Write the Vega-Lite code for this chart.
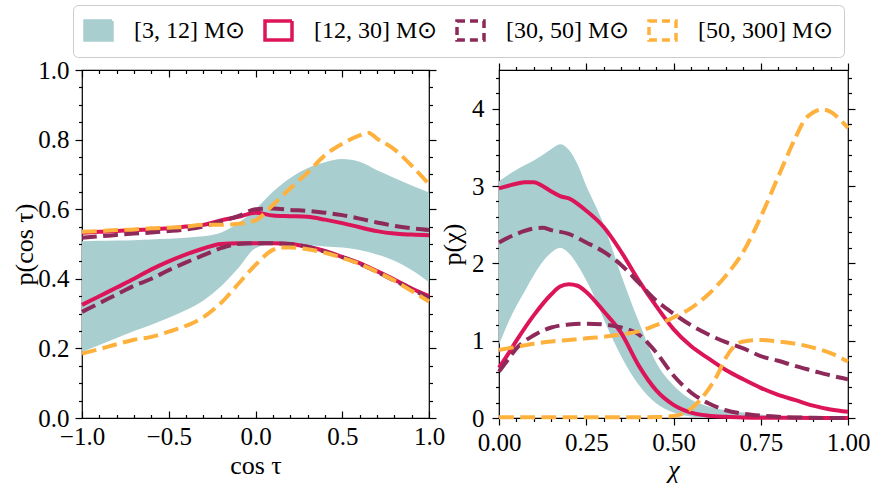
{
  "$schema": "https://vega.github.io/schema/vega-lite/v6.json",
  "padding": {"left": 11, "top": 4, "right": 5, "bottom": 5},
  "bounds": "flush",
  "spacing": 70,
  "config": {
    "view": {"stroke": "black", "strokeWidth": 1.2},
    "axis": {"labelFont": "Liberation Serif", "labelFontSize": 25, "labelColor": "black", "labelFlush": false, "labelOverlap": false, "titleFont": "Liberation Serif", "titleFontSize": 26, "titleFontWeight": "normal", "titleColor": "black", "domain": false, "grid": false, "tickColor": "black", "tickWidth": 1.2},
    "legend": {"labelFont": "Liberation Serif", "labelFontSize": 24, "labelColor": "black"}
  },
  "datasets": {
    "lt": [
      {"x": -1.0, "lo": 0.19, "hi": 0.508}, {"x": -0.9, "lo": 0.21, "hi": 0.509}, {"x": -0.8, "lo": 0.23, "hi": 0.51},
      {"x": -0.7, "lo": 0.25, "hi": 0.511}, {"x": -0.6, "lo": 0.268, "hi": 0.513}, {"x": -0.5, "lo": 0.288, "hi": 0.515},
      {"x": -0.4, "lo": 0.31, "hi": 0.518}, {"x": -0.3, "lo": 0.338, "hi": 0.522}, {"x": -0.2, "lo": 0.378, "hi": 0.532},
      {"x": -0.1, "lo": 0.43, "hi": 0.56}, {"x": 0.0, "lo": 0.488, "hi": 0.6}, {"x": 0.1, "lo": 0.5, "hi": 0.65},
      {"x": 0.2, "lo": 0.5, "hi": 0.69}, {"x": 0.3, "lo": 0.497, "hi": 0.718}, {"x": 0.4, "lo": 0.493, "hi": 0.735},
      {"x": 0.5, "lo": 0.49, "hi": 0.744}, {"x": 0.6, "lo": 0.483, "hi": 0.736}, {"x": 0.7, "lo": 0.47, "hi": 0.712},
      {"x": 0.8, "lo": 0.452, "hi": 0.69}, {"x": 0.9, "lo": 0.425, "hi": 0.668}, {"x": 1.0, "lo": 0.39, "hi": 0.648}
    ],
    "ll": [
      {"g": "12-30", "b": "hi", "x": -1, "y": 0.532}, {"g": "12-30", "b": "hi", "x": -0.9, "y": 0.535}, {"g": "12-30", "b": "hi", "x": -0.8, "y": 0.537},
      {"g": "12-30", "b": "hi", "x": -0.7, "y": 0.54}, {"g": "12-30", "b": "hi", "x": -0.6, "y": 0.542}, {"g": "12-30", "b": "hi", "x": -0.5, "y": 0.545},
      {"g": "12-30", "b": "hi", "x": -0.4, "y": 0.55}, {"g": "12-30", "b": "hi", "x": -0.3, "y": 0.555}, {"g": "12-30", "b": "hi", "x": -0.2, "y": 0.568},
      {"g": "12-30", "b": "hi", "x": -0.1, "y": 0.578}, {"g": "12-30", "b": "hi", "x": 0, "y": 0.59}, {"g": "12-30", "b": "hi", "x": 0.1, "y": 0.582},
      {"g": "12-30", "b": "hi", "x": 0.2, "y": 0.58}, {"g": "12-30", "b": "hi", "x": 0.3, "y": 0.578}, {"g": "12-30", "b": "hi", "x": 0.4, "y": 0.57},
      {"g": "12-30", "b": "hi", "x": 0.5, "y": 0.56}, {"g": "12-30", "b": "hi", "x": 0.6, "y": 0.548}, {"g": "12-30", "b": "hi", "x": 0.7, "y": 0.537},
      {"g": "12-30", "b": "hi", "x": 0.8, "y": 0.53}, {"g": "12-30", "b": "hi", "x": 0.9, "y": 0.527}, {"g": "12-30", "b": "hi", "x": 1, "y": 0.525},
      {"g": "12-30", "b": "lo", "x": -1, "y": 0.325}, {"g": "12-30", "b": "lo", "x": -0.9, "y": 0.35}, {"g": "12-30", "b": "lo", "x": -0.8, "y": 0.375},
      {"g": "12-30", "b": "lo", "x": -0.7, "y": 0.4}, {"g": "12-30", "b": "lo", "x": -0.6, "y": 0.427}, {"g": "12-30", "b": "lo", "x": -0.5, "y": 0.45},
      {"g": "12-30", "b": "lo", "x": -0.4, "y": 0.47}, {"g": "12-30", "b": "lo", "x": -0.3, "y": 0.487}, {"g": "12-30", "b": "lo", "x": -0.2, "y": 0.5},
      {"g": "12-30", "b": "lo", "x": -0.1, "y": 0.502}, {"g": "12-30", "b": "lo", "x": 0, "y": 0.502}, {"g": "12-30", "b": "lo", "x": 0.1, "y": 0.502},
      {"g": "12-30", "b": "lo", "x": 0.2, "y": 0.5}, {"g": "12-30", "b": "lo", "x": 0.3, "y": 0.492}, {"g": "12-30", "b": "lo", "x": 0.4, "y": 0.48},
      {"g": "12-30", "b": "lo", "x": 0.5, "y": 0.463}, {"g": "12-30", "b": "lo", "x": 0.6, "y": 0.445}, {"g": "12-30", "b": "lo", "x": 0.7, "y": 0.422},
      {"g": "12-30", "b": "lo", "x": 0.8, "y": 0.398}, {"g": "12-30", "b": "lo", "x": 0.9, "y": 0.372}, {"g": "12-30", "b": "lo", "x": 1, "y": 0.35},
      {"g": "30-50", "b": "hi", "x": -1, "y": 0.518}, {"g": "30-50", "b": "hi", "x": -0.9, "y": 0.522}, {"g": "30-50", "b": "hi", "x": -0.8, "y": 0.526},
      {"g": "30-50", "b": "hi", "x": -0.7, "y": 0.53}, {"g": "30-50", "b": "hi", "x": -0.6, "y": 0.533}, {"g": "30-50", "b": "hi", "x": -0.5, "y": 0.537},
      {"g": "30-50", "b": "hi", "x": -0.4, "y": 0.542}, {"g": "30-50", "b": "hi", "x": -0.3, "y": 0.55}, {"g": "30-50", "b": "hi", "x": -0.2, "y": 0.565},
      {"g": "30-50", "b": "hi", "x": -0.1, "y": 0.58}, {"g": "30-50", "b": "hi", "x": 0, "y": 0.6}, {"g": "30-50", "b": "hi", "x": 0.1, "y": 0.602},
      {"g": "30-50", "b": "hi", "x": 0.2, "y": 0.598}, {"g": "30-50", "b": "hi", "x": 0.3, "y": 0.595}, {"g": "30-50", "b": "hi", "x": 0.4, "y": 0.59},
      {"g": "30-50", "b": "hi", "x": 0.5, "y": 0.583}, {"g": "30-50", "b": "hi", "x": 0.6, "y": 0.573}, {"g": "30-50", "b": "hi", "x": 0.7, "y": 0.562},
      {"g": "30-50", "b": "hi", "x": 0.8, "y": 0.552}, {"g": "30-50", "b": "hi", "x": 0.9, "y": 0.545}, {"g": "30-50", "b": "hi", "x": 1, "y": 0.54},
      {"g": "30-50", "b": "lo", "x": -1, "y": 0.305}, {"g": "30-50", "b": "lo", "x": -0.9, "y": 0.33}, {"g": "30-50", "b": "lo", "x": -0.8, "y": 0.355},
      {"g": "30-50", "b": "lo", "x": -0.7, "y": 0.38}, {"g": "30-50", "b": "lo", "x": -0.6, "y": 0.4}, {"g": "30-50", "b": "lo", "x": -0.5, "y": 0.425},
      {"g": "30-50", "b": "lo", "x": -0.4, "y": 0.447}, {"g": "30-50", "b": "lo", "x": -0.3, "y": 0.468}, {"g": "30-50", "b": "lo", "x": -0.2, "y": 0.488},
      {"g": "30-50", "b": "lo", "x": -0.1, "y": 0.5}, {"g": "30-50", "b": "lo", "x": 0, "y": 0.502}, {"g": "30-50", "b": "lo", "x": 0.1, "y": 0.502},
      {"g": "30-50", "b": "lo", "x": 0.2, "y": 0.5}, {"g": "30-50", "b": "lo", "x": 0.3, "y": 0.492}, {"g": "30-50", "b": "lo", "x": 0.4, "y": 0.478},
      {"g": "30-50", "b": "lo", "x": 0.5, "y": 0.462}, {"g": "30-50", "b": "lo", "x": 0.6, "y": 0.443}, {"g": "30-50", "b": "lo", "x": 0.7, "y": 0.42},
      {"g": "30-50", "b": "lo", "x": 0.8, "y": 0.395}, {"g": "30-50", "b": "lo", "x": 0.9, "y": 0.37}, {"g": "30-50", "b": "lo", "x": 1, "y": 0.345},
      {"g": "50-300", "b": "hi", "x": -1, "y": 0.535}, {"g": "50-300", "b": "hi", "x": -0.9, "y": 0.537}, {"g": "50-300", "b": "hi", "x": -0.8, "y": 0.54},
      {"g": "50-300", "b": "hi", "x": -0.7, "y": 0.542}, {"g": "50-300", "b": "hi", "x": -0.6, "y": 0.545}, {"g": "50-300", "b": "hi", "x": -0.5, "y": 0.547},
      {"g": "50-300", "b": "hi", "x": -0.4, "y": 0.55}, {"g": "50-300", "b": "hi", "x": -0.3, "y": 0.555}, {"g": "50-300", "b": "hi", "x": -0.2, "y": 0.555},
      {"g": "50-300", "b": "hi", "x": -0.1, "y": 0.558}, {"g": "50-300", "b": "hi", "x": 0, "y": 0.568}, {"g": "50-300", "b": "hi", "x": 0.1, "y": 0.612},
      {"g": "50-300", "b": "hi", "x": 0.2, "y": 0.66}, {"g": "50-300", "b": "hi", "x": 0.3, "y": 0.705}, {"g": "50-300", "b": "hi", "x": 0.4, "y": 0.755},
      {"g": "50-300", "b": "hi", "x": 0.5, "y": 0.788}, {"g": "50-300", "b": "hi", "x": 0.6, "y": 0.812}, {"g": "50-300", "b": "hi", "x": 0.65, "y": 0.82},
      {"g": "50-300", "b": "hi", "x": 0.7, "y": 0.803}, {"g": "50-300", "b": "hi", "x": 0.8, "y": 0.772}, {"g": "50-300", "b": "hi", "x": 0.9, "y": 0.725},
      {"g": "50-300", "b": "hi", "x": 1, "y": 0.672},
      {"g": "50-300", "b": "lo", "x": -1, "y": 0.185}, {"g": "50-300", "b": "lo", "x": -0.9, "y": 0.198}, {"g": "50-300", "b": "lo", "x": -0.8, "y": 0.212},
      {"g": "50-300", "b": "lo", "x": -0.7, "y": 0.225}, {"g": "50-300", "b": "lo", "x": -0.6, "y": 0.233}, {"g": "50-300", "b": "lo", "x": -0.5, "y": 0.248},
      {"g": "50-300", "b": "lo", "x": -0.4, "y": 0.265}, {"g": "50-300", "b": "lo", "x": -0.3, "y": 0.29}, {"g": "50-300", "b": "lo", "x": -0.2, "y": 0.33},
      {"g": "50-300", "b": "lo", "x": -0.1, "y": 0.385}, {"g": "50-300", "b": "lo", "x": 0, "y": 0.44}, {"g": "50-300", "b": "lo", "x": 0.1, "y": 0.483},
      {"g": "50-300", "b": "lo", "x": 0.15, "y": 0.49}, {"g": "50-300", "b": "lo", "x": 0.2, "y": 0.49}, {"g": "50-300", "b": "lo", "x": 0.3, "y": 0.485},
      {"g": "50-300", "b": "lo", "x": 0.4, "y": 0.475}, {"g": "50-300", "b": "lo", "x": 0.5, "y": 0.46}, {"g": "50-300", "b": "lo", "x": 0.6, "y": 0.443},
      {"g": "50-300", "b": "lo", "x": 0.7, "y": 0.42}, {"g": "50-300", "b": "lo", "x": 0.8, "y": 0.395}, {"g": "50-300", "b": "lo", "x": 0.9, "y": 0.365},
      {"g": "50-300", "b": "lo", "x": 1, "y": 0.335}
    ],
    "rt": [
      {"x": 0, "lo": 0.95, "hi": 3.06}, {"x": 0.025, "lo": 1.22, "hi": 3.14}, {"x": 0.05, "lo": 1.45, "hi": 3.21},
      {"x": 0.075, "lo": 1.65, "hi": 3.27}, {"x": 0.1, "lo": 1.85, "hi": 3.33}, {"x": 0.125, "lo": 2.02, "hi": 3.4},
      {"x": 0.15, "lo": 2.14, "hi": 3.48}, {"x": 0.175, "lo": 2.2, "hi": 3.54}, {"x": 0.2, "lo": 2.13, "hi": 3.47},
      {"x": 0.225, "lo": 1.98, "hi": 3.28}, {"x": 0.25, "lo": 1.78, "hi": 3.0}, {"x": 0.275, "lo": 1.55, "hi": 2.76},
      {"x": 0.3, "lo": 1.28, "hi": 2.5}, {"x": 0.35, "lo": 0.8, "hi": 1.85}, {"x": 0.4, "lo": 0.43, "hi": 1.25},
      {"x": 0.45, "lo": 0.19, "hi": 0.72}, {"x": 0.5, "lo": 0.07, "hi": 0.42}, {"x": 0.55, "lo": 0.02, "hi": 0.24},
      {"x": 0.6, "lo": 0, "hi": 0.15}, {"x": 0.65, "lo": 0, "hi": 0.1}, {"x": 0.7, "lo": 0, "hi": 0.07},
      {"x": 0.75, "lo": 0, "hi": 0.045}, {"x": 0.8, "lo": 0, "hi": 0.025}, {"x": 0.85, "lo": 0, "hi": 0.01},
      {"x": 0.9, "lo": 0, "hi": 0}
    ],
    "rl": [
      {"g": "12-30", "b": "hi", "x": 0, "y": 2.97}, {"g": "12-30", "b": "hi", "x": 0.025, "y": 3.0}, {"g": "12-30", "b": "hi", "x": 0.05, "y": 3.03},
      {"g": "12-30", "b": "hi", "x": 0.075, "y": 3.05}, {"g": "12-30", "b": "hi", "x": 0.1, "y": 3.05}, {"g": "12-30", "b": "hi", "x": 0.125, "y": 3.0},
      {"g": "12-30", "b": "hi", "x": 0.15, "y": 2.93}, {"g": "12-30", "b": "hi", "x": 0.175, "y": 2.87}, {"g": "12-30", "b": "hi", "x": 0.2, "y": 2.84},
      {"g": "12-30", "b": "hi", "x": 0.25, "y": 2.68}, {"g": "12-30", "b": "hi", "x": 0.3, "y": 2.47}, {"g": "12-30", "b": "hi", "x": 0.35, "y": 2.15},
      {"g": "12-30", "b": "hi", "x": 0.4, "y": 1.78}, {"g": "12-30", "b": "hi", "x": 0.45, "y": 1.45}, {"g": "12-30", "b": "hi", "x": 0.5, "y": 1.15},
      {"g": "12-30", "b": "hi", "x": 0.55, "y": 0.93}, {"g": "12-30", "b": "hi", "x": 0.6, "y": 0.77}, {"g": "12-30", "b": "hi", "x": 0.65, "y": 0.62},
      {"g": "12-30", "b": "hi", "x": 0.7, "y": 0.5}, {"g": "12-30", "b": "hi", "x": 0.75, "y": 0.39}, {"g": "12-30", "b": "hi", "x": 0.8, "y": 0.3},
      {"g": "12-30", "b": "hi", "x": 0.85, "y": 0.23}, {"g": "12-30", "b": "hi", "x": 0.9, "y": 0.16}, {"g": "12-30", "b": "hi", "x": 0.95, "y": 0.11},
      {"g": "12-30", "b": "hi", "x": 1, "y": 0.08},
      {"g": "12-30", "b": "lo", "x": 0, "y": 0.65}, {"g": "12-30", "b": "lo", "x": 0.025, "y": 0.82}, {"g": "12-30", "b": "lo", "x": 0.05, "y": 1.0},
      {"g": "12-30", "b": "lo", "x": 0.1, "y": 1.33}, {"g": "12-30", "b": "lo", "x": 0.15, "y": 1.6}, {"g": "12-30", "b": "lo", "x": 0.175, "y": 1.7},
      {"g": "12-30", "b": "lo", "x": 0.2, "y": 1.73}, {"g": "12-30", "b": "lo", "x": 0.225, "y": 1.71}, {"g": "12-30", "b": "lo", "x": 0.25, "y": 1.63},
      {"g": "12-30", "b": "lo", "x": 0.3, "y": 1.38}, {"g": "12-30", "b": "lo", "x": 0.35, "y": 1.1}, {"g": "12-30", "b": "lo", "x": 0.4, "y": 0.68},
      {"g": "12-30", "b": "lo", "x": 0.45, "y": 0.36}, {"g": "12-30", "b": "lo", "x": 0.5, "y": 0.17}, {"g": "12-30", "b": "lo", "x": 0.55, "y": 0.07},
      {"g": "12-30", "b": "lo", "x": 0.6, "y": 0.03}, {"g": "12-30", "b": "lo", "x": 0.65, "y": 0.015}, {"g": "12-30", "b": "lo", "x": 0.7, "y": 0.008},
      {"g": "12-30", "b": "lo", "x": 0.8, "y": 0.003}, {"g": "12-30", "b": "lo", "x": 0.9, "y": 0.001}, {"g": "12-30", "b": "lo", "x": 1, "y": 0},
      {"g": "30-50", "b": "hi", "x": 0, "y": 2.27}, {"g": "30-50", "b": "hi", "x": 0.05, "y": 2.38}, {"g": "30-50", "b": "hi", "x": 0.1, "y": 2.45},
      {"g": "30-50", "b": "hi", "x": 0.125, "y": 2.46}, {"g": "30-50", "b": "hi", "x": 0.15, "y": 2.43}, {"g": "30-50", "b": "hi", "x": 0.2, "y": 2.38},
      {"g": "30-50", "b": "hi", "x": 0.25, "y": 2.27}, {"g": "30-50", "b": "hi", "x": 0.3, "y": 2.15}, {"g": "30-50", "b": "hi", "x": 0.35, "y": 1.98},
      {"g": "30-50", "b": "hi", "x": 0.4, "y": 1.75}, {"g": "30-50", "b": "hi", "x": 0.45, "y": 1.52}, {"g": "30-50", "b": "hi", "x": 0.5, "y": 1.35},
      {"g": "30-50", "b": "hi", "x": 0.55, "y": 1.2}, {"g": "30-50", "b": "hi", "x": 0.6, "y": 1.08}, {"g": "30-50", "b": "hi", "x": 0.65, "y": 0.98},
      {"g": "30-50", "b": "hi", "x": 0.7, "y": 0.9}, {"g": "30-50", "b": "hi", "x": 0.75, "y": 0.8}, {"g": "30-50", "b": "hi", "x": 0.8, "y": 0.74},
      {"g": "30-50", "b": "hi", "x": 0.85, "y": 0.67}, {"g": "30-50", "b": "hi", "x": 0.9, "y": 0.61}, {"g": "30-50", "b": "hi", "x": 0.95, "y": 0.55},
      {"g": "30-50", "b": "hi", "x": 1, "y": 0.5},
      {"g": "30-50", "b": "lo", "x": 0, "y": 0.6}, {"g": "30-50", "b": "lo", "x": 0.025, "y": 0.75}, {"g": "30-50", "b": "lo", "x": 0.05, "y": 0.9},
      {"g": "30-50", "b": "lo", "x": 0.1, "y": 1.07}, {"g": "30-50", "b": "lo", "x": 0.15, "y": 1.17}, {"g": "30-50", "b": "lo", "x": 0.2, "y": 1.21},
      {"g": "30-50", "b": "lo", "x": 0.25, "y": 1.22}, {"g": "30-50", "b": "lo", "x": 0.3, "y": 1.21}, {"g": "30-50", "b": "lo", "x": 0.35, "y": 1.17},
      {"g": "30-50", "b": "lo", "x": 0.4, "y": 1.08}, {"g": "30-50", "b": "lo", "x": 0.45, "y": 0.85}, {"g": "30-50", "b": "lo", "x": 0.5, "y": 0.55},
      {"g": "30-50", "b": "lo", "x": 0.55, "y": 0.33}, {"g": "30-50", "b": "lo", "x": 0.6, "y": 0.19}, {"g": "30-50", "b": "lo", "x": 0.65, "y": 0.1},
      {"g": "30-50", "b": "lo", "x": 0.7, "y": 0.055}, {"g": "30-50", "b": "lo", "x": 0.75, "y": 0.03}, {"g": "30-50", "b": "lo", "x": 0.8, "y": 0.015},
      {"g": "30-50", "b": "lo", "x": 0.85, "y": 0.007}, {"g": "30-50", "b": "lo", "x": 0.9, "y": 0.003}, {"g": "30-50", "b": "lo", "x": 1, "y": 0},
      {"g": "50-300", "b": "hi", "x": 0, "y": 0.88}, {"g": "50-300", "b": "hi", "x": 0.05, "y": 0.92}, {"g": "50-300", "b": "hi", "x": 0.1, "y": 0.96},
      {"g": "50-300", "b": "hi", "x": 0.15, "y": 0.99}, {"g": "50-300", "b": "hi", "x": 0.2, "y": 1.01}, {"g": "50-300", "b": "hi", "x": 0.25, "y": 1.03},
      {"g": "50-300", "b": "hi", "x": 0.3, "y": 1.05}, {"g": "50-300", "b": "hi", "x": 0.35, "y": 1.08}, {"g": "50-300", "b": "hi", "x": 0.4, "y": 1.12},
      {"g": "50-300", "b": "hi", "x": 0.45, "y": 1.2}, {"g": "50-300", "b": "hi", "x": 0.5, "y": 1.3}, {"g": "50-300", "b": "hi", "x": 0.55, "y": 1.42},
      {"g": "50-300", "b": "hi", "x": 0.6, "y": 1.6}, {"g": "50-300", "b": "hi", "x": 0.65, "y": 1.84}, {"g": "50-300", "b": "hi", "x": 0.7, "y": 2.15},
      {"g": "50-300", "b": "hi", "x": 0.75, "y": 2.6}, {"g": "50-300", "b": "hi", "x": 0.8, "y": 3.12}, {"g": "50-300", "b": "hi", "x": 0.85, "y": 3.63},
      {"g": "50-300", "b": "hi", "x": 0.875, "y": 3.85}, {"g": "50-300", "b": "hi", "x": 0.9, "y": 3.95}, {"g": "50-300", "b": "hi", "x": 0.925, "y": 3.99},
      {"g": "50-300", "b": "hi", "x": 0.95, "y": 3.96}, {"g": "50-300", "b": "hi", "x": 0.975, "y": 3.87}, {"g": "50-300", "b": "hi", "x": 1, "y": 3.75},
      {"g": "50-300", "b": "lo", "x": 0, "y": 0.01}, {"g": "50-300", "b": "lo", "x": 0.1, "y": 0.01}, {"g": "50-300", "b": "lo", "x": 0.2, "y": 0.01},
      {"g": "50-300", "b": "lo", "x": 0.3, "y": 0.01}, {"g": "50-300", "b": "lo", "x": 0.4, "y": 0.01}, {"g": "50-300", "b": "lo", "x": 0.45, "y": 0.012},
      {"g": "50-300", "b": "lo", "x": 0.5, "y": 0.025}, {"g": "50-300", "b": "lo", "x": 0.55, "y": 0.12}, {"g": "50-300", "b": "lo", "x": 0.6, "y": 0.37},
      {"g": "50-300", "b": "lo", "x": 0.625, "y": 0.55}, {"g": "50-300", "b": "lo", "x": 0.65, "y": 0.78}, {"g": "50-300", "b": "lo", "x": 0.675, "y": 0.93},
      {"g": "50-300", "b": "lo", "x": 0.7, "y": 0.99}, {"g": "50-300", "b": "lo", "x": 0.75, "y": 1.01}, {"g": "50-300", "b": "lo", "x": 0.8, "y": 0.99},
      {"g": "50-300", "b": "lo", "x": 0.85, "y": 0.96}, {"g": "50-300", "b": "lo", "x": 0.9, "y": 0.91}, {"g": "50-300", "b": "lo", "x": 0.95, "y": 0.84},
      {"g": "50-300", "b": "lo", "x": 1, "y": 0.73}
    ]
  },
  "hconcat": [
    {
      "width": 347,
      "height": 348,
      "resolve": {"axis": {"x": "independent", "y": "independent"}},
      "layer": [
        {
          "data": {"name": "lt"},
          "mark": {"type": "area", "color": "#a8cecf", "opacity": 1, "interpolate": "monotone"},
          "encoding": {
            "x": {"field": "x", "type": "quantitative", "scale": {"domain": [-1, 1], "nice": false, "zero": false},
                  "axis": {"orient": "bottom", "values": [-1, -0.5, 0, 0.5, 1], "format": ".1f", "tickSize": -7, "labelPadding": 13, "title": "cos τ", "titlePadding": 3}},
            "y": {"field": "hi", "type": "quantitative", "scale": {"domain": [0, 1], "nice": false, "zero": false},
                  "axis": {"orient": "left", "values": [0, 0.2, 0.4, 0.6, 0.8, 1], "format": ".1f", "tickSize": 7, "labelPadding": 6, "title": "p(cos τ)", "titlePadding": 0}},
            "y2": {"field": "lo"}
          }
        },
        {
          "data": {"name": "ll"},
          "transform": [{"filter": "datum.g === '12-30'"}],
          "mark": {"type": "line", "strokeWidth": 4, "interpolate": "monotone"},
          "encoding": {
            "x": {"field": "x", "type": "quantitative",
                  "axis": {"orient": "bottom", "values": [-0.9, -0.8, -0.7, -0.6, -0.4, -0.3, -0.2, -0.1, 0.1, 0.2, 0.3, 0.4, 0.6, 0.7, 0.8, 0.9], "labels": false, "tickSize": -3.5, "title": null}},
            "y": {"field": "y", "type": "quantitative",
                  "axis": {"orient": "left", "values": [0.05, 0.1, 0.15, 0.25, 0.3, 0.35, 0.45, 0.5, 0.55, 0.65, 0.7, 0.75, 0.85, 0.9, 0.95], "labels": false, "tickSize": 3.5, "title": null}},
            "detail": {"field": "b"},
            "color": {"field": "g", "type": "nominal",
                      "scale": {"domain": ["3-12", "12-30", "30-50", "50-300"], "range": ["#a8cecf", "#dc1458", "#8e2a5a", "#ffb13d"]},
                      "legend": {
                        "title": null, "orient": "none", "legendX": -9, "legendY": -65, "direction": "horizontal", "columns": 4,
                        "columnPadding": 12, "labelOffset": 20, "padding": 10, "strokeColor": "#cccccc", "fillColor": "white", "cornerRadius": 5,
                        "symbolType": "M-1,-0.7L1,-0.7L1,0.7L-1,0.7Z", "symbolSize": 729,
                        "labelExpr": "'[' + replace(datum.label, '-', ', ') + '] M⊙'",
                        "encode": {"symbols": {"update": {
                          "fill": {"signal": "datum.value === '3-12' ? '#a8cecf' : 'transparent'"},
                          "stroke": {"signal": "datum.value === '3-12' ? 'transparent' : datum.value === '12-30' ? '#dc1458' : datum.value === '30-50' ? '#8e2a5a' : '#ffb13d'"},
                          "strokeDash": {"signal": "(datum.value === '30-50' || datum.value === '50-300') ? [8, 5] : [1, 0]"},
                          "strokeWidth": {"value": 3.5},
                          "opacity": {"value": 1}
                        }}}
                      }}
          }
        },
        {
          "data": {"name": "ll"},
          "transform": [{"filter": "datum.g === '30-50'"}],
          "mark": {"type": "line", "strokeWidth": 4, "strokeDash": [14.8, 6.4], "interpolate": "monotone"},
          "encoding": {
            "x": {"field": "x", "type": "quantitative",
                  "axis": {"orient": "top", "values": [-1, -0.5, 0, 0.5, 1], "labels": false, "tickSize": -7, "title": null}},
            "y": {"field": "y", "type": "quantitative",
                  "axis": {"orient": "right", "values": [0, 0.2, 0.4, 0.6, 0.8, 1], "labels": false, "tickSize": 7, "title": null}},
            "detail": {"field": "b"},
            "color": {"field": "g", "type": "nominal"}
          }
        },
        {
          "data": {"name": "ll"},
          "transform": [{"filter": "datum.g === '50-300'"}],
          "mark": {"type": "line", "strokeWidth": 4, "strokeDash": [14.8, 6.4], "interpolate": "monotone"},
          "encoding": {
            "x": {"field": "x", "type": "quantitative",
                  "axis": {"orient": "top", "values": [-0.9, -0.8, -0.7, -0.6, -0.4, -0.3, -0.2, -0.1, 0.1, 0.2, 0.3, 0.4, 0.6, 0.7, 0.8, 0.9], "labels": false, "tickSize": -3.5, "title": null}},
            "y": {"field": "y", "type": "quantitative",
                  "axis": {"orient": "right", "values": [0.05, 0.1, 0.15, 0.25, 0.3, 0.35, 0.45, 0.5, 0.55, 0.65, 0.7, 0.75, 0.85, 0.9, 0.95], "labels": false, "tickSize": 3.5, "title": null}},
            "detail": {"field": "b"},
            "color": {"field": "g", "type": "nominal"}
          }
        }
      ]
    },
    {
      "width": 349,
      "height": 348,
      "resolve": {"axis": {"x": "independent", "y": "independent"}},
      "layer": [
        {
          "data": {"name": "rt"},
          "mark": {"type": "area", "color": "#a8cecf", "opacity": 1, "interpolate": "monotone"},
          "encoding": {
            "x": {"field": "x", "type": "quantitative", "scale": {"domain": [0, 1], "nice": false, "zero": false},
                  "axis": {"orient": "bottom", "values": [0, 0.25, 0.5, 0.75, 1], "format": ".2f", "tickSize": 7, "labelPadding": 5, "title": "χ", "titleFontStyle": "italic", "titlePadding": 1}},
            "y": {"field": "hi", "type": "quantitative", "scale": {"domain": [0, 4.5], "nice": false, "zero": false},
                  "axis": {"orient": "left", "values": [0, 1, 2, 3, 4], "format": "d", "tickSize": 7, "labelPadding": 8, "title": "p(χ)", "titlePadding": 6}},
            "y2": {"field": "lo"}
          }
        },
        {
          "data": {"name": "rl"},
          "transform": [{"filter": "datum.g === '12-30'"}],
          "mark": {"type": "line", "strokeWidth": 4, "interpolate": "monotone"},
          "encoding": {
            "x": {"field": "x", "type": "quantitative",
                  "axis": {"orient": "bottom", "values": [0.05, 0.1, 0.15, 0.2, 0.3, 0.35, 0.4, 0.45, 0.55, 0.6, 0.65, 0.7, 0.8, 0.85, 0.9, 0.95], "labels": false, "tickSize": 3.5, "title": null}},
            "y": {"field": "y", "type": "quantitative",
                  "axis": {"orient": "left", "values": [0.2, 0.4, 0.6, 0.8, 1.2, 1.4, 1.6, 1.8, 2.2, 2.4, 2.6, 2.8, 3.2, 3.4, 3.6, 3.8, 4.2, 4.4], "labels": false, "tickSize": 3.5, "title": null}},
            "detail": {"field": "b"},
            "color": {"field": "g", "type": "nominal"}
          }
        },
        {
          "data": {"name": "rl"},
          "transform": [{"filter": "datum.g === '30-50'"}],
          "mark": {"type": "line", "strokeWidth": 4, "strokeDash": [14.8, 6.4], "interpolate": "monotone"},
          "encoding": {
            "x": {"field": "x", "type": "quantitative",
                  "axis": {"orient": "top", "values": [0, 0.25, 0.5, 0.75, 1], "labels": false, "tickSize": 7, "title": null}},
            "y": {"field": "y", "type": "quantitative",
                  "axis": {"orient": "right", "values": [0, 1, 2, 3, 4], "labels": false, "tickSize": 7, "title": null}},
            "detail": {"field": "b"},
            "color": {"field": "g", "type": "nominal"}
          }
        },
        {
          "data": {"name": "rl"},
          "transform": [{"filter": "datum.g === '50-300'"}],
          "mark": {"type": "line", "strokeWidth": 4, "strokeDash": [14.8, 6.4], "interpolate": "monotone"},
          "encoding": {
            "x": {"field": "x", "type": "quantitative",
                  "axis": {"orient": "top", "values": [0.05, 0.1, 0.15, 0.2, 0.3, 0.35, 0.4, 0.45, 0.55, 0.6, 0.65, 0.7, 0.8, 0.85, 0.9, 0.95], "labels": false, "tickSize": 3.5, "title": null}},
            "y": {"field": "y", "type": "quantitative",
                  "axis": {"orient": "right", "values": [0.2, 0.4, 0.6, 0.8, 1.2, 1.4, 1.6, 1.8, 2.2, 2.4, 2.6, 2.8, 3.2, 3.4, 3.6, 3.8, 4.2, 4.4], "labels": false, "tickSize": 3.5, "title": null}},
            "detail": {"field": "b"},
            "color": {"field": "g", "type": "nominal"}
          }
        }
      ]
    }
  ]
}
